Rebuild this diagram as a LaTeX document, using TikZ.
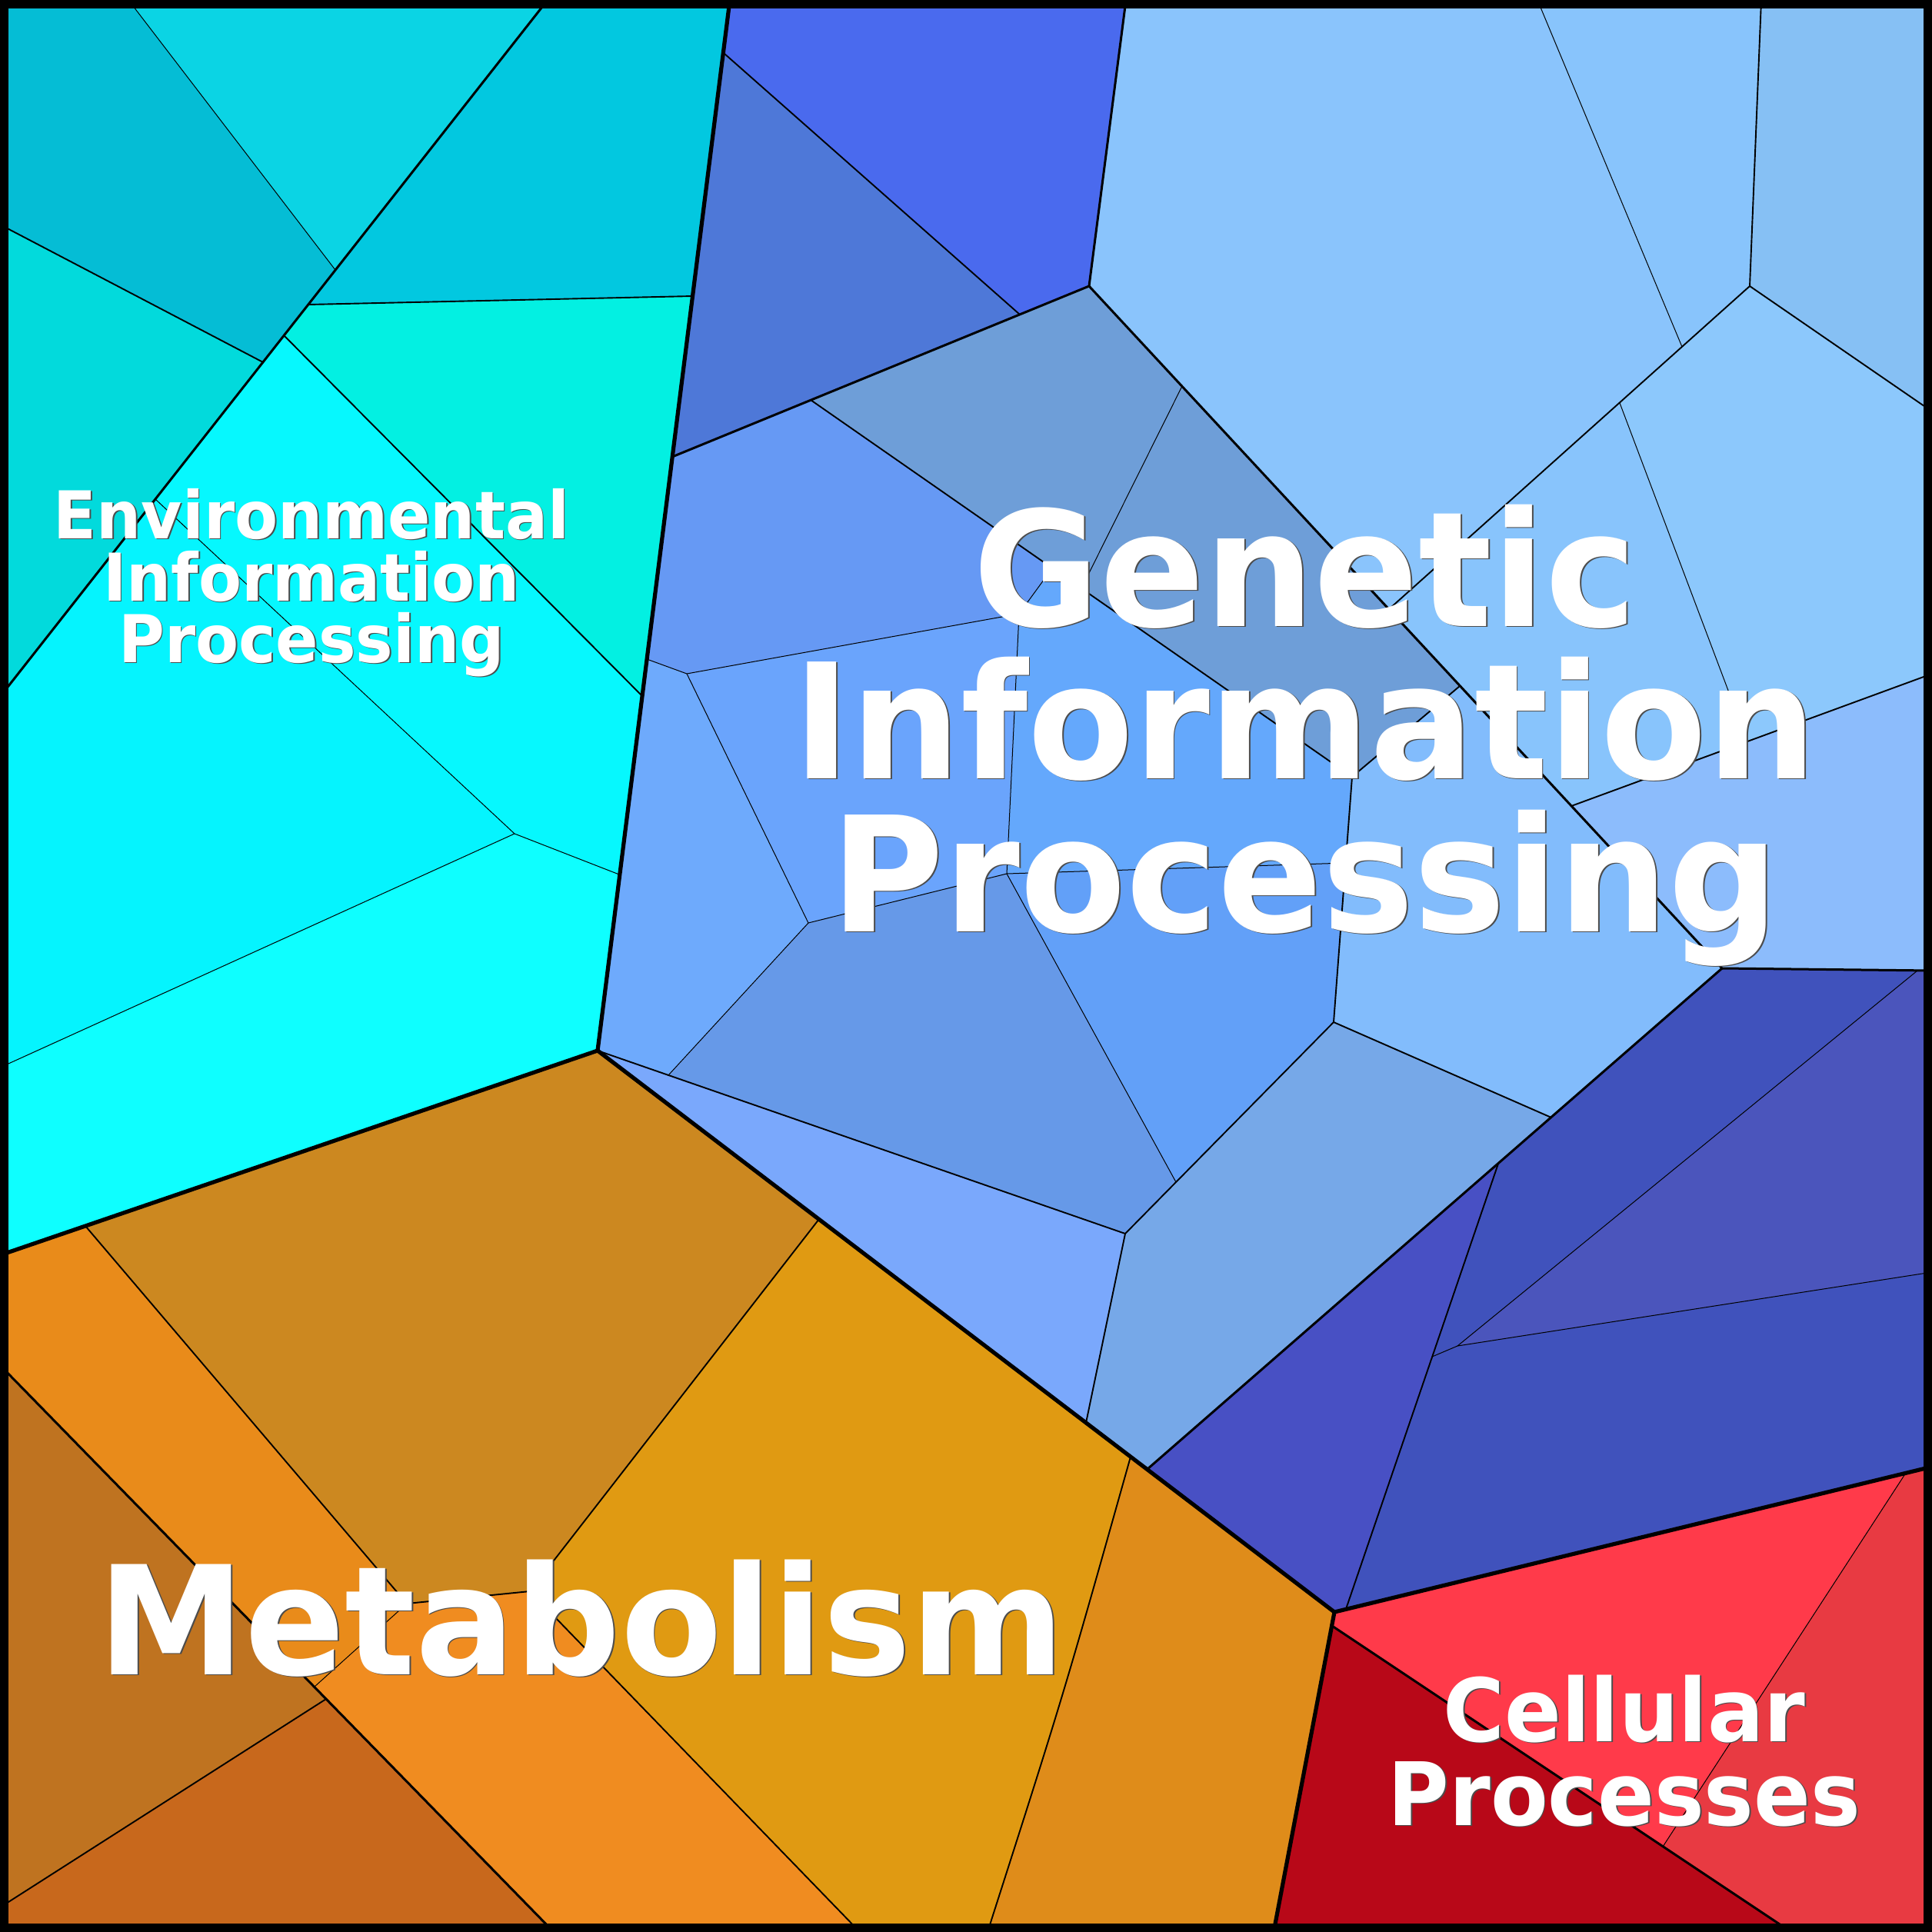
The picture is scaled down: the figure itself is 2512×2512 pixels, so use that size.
\documentclass[tikz,border=0pt]{standalone}
\usepackage{fontspec}
\setmainfont{DejaVu Sans}
\usepackage{graphicx}
\usepackage{tikz}

% cell colours
\definecolor{envA}{HTML}{05BDD5}
\definecolor{envB}{HTML}{0BD4E4}
\definecolor{envC}{HTML}{02DADC}
\definecolor{envD}{HTML}{02C8E0}
\definecolor{envE}{HTML}{03F0E2}
\definecolor{envF}{HTML}{06F8FE}
\definecolor{envG}{HTML}{05F4FE}
\definecolor{envH}{HTML}{0EFFFF}
\definecolor{genA}{HTML}{4A6AEE}
\definecolor{genB}{HTML}{4E78D8}
\definecolor{genC}{HTML}{8AC4FC}
\definecolor{genD}{HTML}{88C4FC}
\definecolor{genE}{HTML}{86C0F4}
\definecolor{genF}{HTML}{8CC8FC}
\definecolor{genG}{HTML}{8CBCFC}
\definecolor{genH}{HTML}{6E9ED8}
\definecolor{genI}{HTML}{82BCFC}
\definecolor{genJ}{HTML}{76A8E8}
\definecolor{genK}{HTML}{7AA8FC}
\definecolor{genL}{HTML}{6699F4}
\definecolor{genM}{HTML}{6AA4FC}
\definecolor{genN}{HTML}{64A8FC}
\definecolor{genO}{HTML}{62A0F8}
\definecolor{genP}{HTML}{6EAAFC}
\definecolor{genQ}{HTML}{6699E8}
\definecolor{genR}{HTML}{4850C4}
\definecolor{genS}{HTML}{4052BC}
\definecolor{genT}{HTML}{4B55BC}
\definecolor{metA}{HTML}{BF7320}
\definecolor{metB}{HTML}{C8681C}
\definecolor{metC}{HTML}{E98B1A}
\definecolor{metD}{HTML}{CC8820}
\definecolor{metE}{HTML}{F08C20}
\definecolor{metF}{HTML}{E09A12}
\definecolor{metG}{HTML}{DF8C1A}
\definecolor{celA}{HTML}{B80818}
\definecolor{celB}{HTML}{FF3A4A}
\definecolor{celC}{HTML}{E83A42}

% x, baseline y, font size, horizontal scale, text
\newcommand\maplabel[5]{%
  \node[lblshadow,font=\bfseries\fontsize{#3}{#3}\selectfont] at (#1+1.8,#2+1.8) {\scalebox{#4}[1]{#5}};
  \node[lbl,font=\bfseries\fontsize{#3}{#3}\selectfont] at (#1,#2) {\scalebox{#4}[1]{#5}};}

\begin{document}
\begin{tikzpicture}[x=0.1mm,y=-0.1mm,
    lvlone/.style={line width=0.52mm, line join=miter},
    lvltwo/.style={line width=0.30mm, line join=miter},
    lvlthree/.style={line width=0.19mm},
    lvlfour/.style={line width=0.10mm},
    lbl/.style={text=white, anchor=base, inner sep=0pt},
    lblshadow/.style={text=black!70, anchor=base, inner sep=0pt}]
\useasboundingbox (0,0) rectangle (2512,2512);

% vertices: Environmental Information Processing
\coordinate (tB) at (167,0);   \coordinate (tA) at (712,0);   \coordinate (tE) at (949,0);
\coordinate (pA1) at (436,351); \coordinate (pA2) at (401,396); \coordinate (pA3) at (369,436);
\coordinate (pA4) at (342,471); \coordinate (pA5) at (202,649);
\coordinate (lA) at (0,906);   \coordinate (lB) at (0,292);   \coordinate (lC) at (0,1388);
\coordinate (lD) at (0,1632);  \coordinate (q1) at (669,1084);
\coordinate (g0) at (941,69);  \coordinate (g1) at (901,385); \coordinate (g2) at (874,594);
\coordinate (g4) at (841,857); \coordinate (g3) at (835,905); \coordinate (g5) at (805,1137);
\coordinate (J0) at (777,1366);

% vertices: Genetic Information Processing
\coordinate (tG) at (1464,0);  \coordinate (tI) at (1999,0);  \coordinate (tH) at (2290,0);
\coordinate (K) at (1416,372); \coordinate (kA) at (1054,520); \coordinate (kB) at (1326,409);
\coordinate (kC) at (1368,739);
\coordinate (KR) at (2275,372); \coordinate (rB) at (2512,535); \coordinate (lc1) at (2187,451);
\coordinate (lc2) at (2106,524); \coordinate (bC) at (1806,792);
\coordinate (d1) at (1537,502); \coordinate (d2) at (1898,892); \coordinate (d3) at (2043,1048);
\coordinate (ld1) at (2272,964); \coordinate (rD) at (2512,876);
\coordinate (R) at (2239,1259); \coordinate (rR) at (2512,1262);
\coordinate (s1j) at (1406,765);
\coordinate (Jc1) at (1758,1010); \coordinate (Jc2) at (1734,1329); \coordinate (m2a) at (2017,1453);
\coordinate (Q) at (1492,1910);  \coordinate (Jc3) at (1529,1537); \coordinate (Jc4) at (1463,1604);
\coordinate (Mb) at (1412,1850);
\coordinate (Jx) at (1325,798);  \coordinate (v1) at (893,876);   \coordinate (v2) at (1309,1136);
\coordinate (v3) at (1051,1200); \coordinate (v4) at (1750,1122); \coordinate (v5) at (869,1398);
\coordinate (dm1) at (1948,1513); \coordinate (dm2) at (1862,1764); \coordinate (dm3) at (1750,2092);
\coordinate (dt1) at (2493,1262); \coordinate (dj) at (1895,1750);  \coordinate (rE) at (2512,1654);
\coordinate (rC) at (2512,1907);  \coordinate (JC) at (1735,2096);

% vertices: Metabolism and Cellular Processes
\coordinate (mA) at (111,1594);  \coordinate (mL) at (0,1775);    \coordinate (mB) at (720,2512);
\coordinate (mL1) at (424,2209); \coordinate (mL2) at (409,2193); \coordinate (mLl) at (0,2480);
\coordinate (mJ1) at (529,2085); \coordinate (mJ2) at (689,2069); \coordinate (mG) at (1065,1585);
\coordinate (mBb) at (1118,2512); \coordinate (mG2) at (1470,1894); \coordinate (mM) at (1383,2203);
\coordinate (mBc) at (1284,2512); \coordinate (mC) at (1656,2512);
\coordinate (cL) at (1732,2114); \coordinate (cB) at (2329,2512); \coordinate (cP) at (2162,2401);
\coordinate (cT) at (2478,1915);

% Environmental Information Processing cells
\fill[envA] (0,0) -- (tB) -- (pA1) -- (pA4) -- (lB) -- cycle;
\fill[envB] (tB) -- (tA) -- (pA1) -- cycle;
\fill[envC] (lB) -- (pA4) -- (lA) -- cycle;
\fill[envD] (tA) -- (tE) -- (g1) -- (pA2) -- cycle;
\fill[envE] (pA2) -- (g1) -- (g3) -- (pA3) -- cycle;
\fill[envF] (pA3) -- (g3) -- (g5) -- (q1) -- (pA5) -- cycle;
\fill[envG] (pA5) -- (q1) -- (lC) -- (lA) -- cycle;
\fill[envH] (lC) -- (q1) -- (g5) -- (J0) -- (lD) -- cycle;

% Genetic Information Processing cells
\fill[genA] (tE) -- (tG) -- (K) -- (kB) -- (g0) -- cycle;
\fill[genB] (g0) -- (kB) -- (g2) -- cycle;
\fill[genC] (tG) -- (tI) -- (lc1) -- (bC) -- (K) -- cycle;
\fill[genD] (tI) -- (tH) -- (KR) -- (lc1) -- cycle;
\fill[genE] (tH) -- (2512,0) -- (rB) -- (KR) -- cycle;
\fill[genF] (KR) -- (rB) -- (rD) -- (ld1) -- (lc2) -- cycle;
\fill[genD] (lc2) -- (ld1) -- (d3) -- (bC) -- cycle;
\fill[genG] (d3) -- (rD) -- (rR) -- (R) -- cycle;
\fill[genH] (kA) -- (K) -- (d2) -- (Jc1) -- cycle;
\fill[genI] (Jc1) -- (d2) -- (R) -- (m2a) -- (Jc2) -- cycle;
\fill[genJ] (Jc2) -- (m2a) -- (Q) -- (Mb) -- (Jc4) -- cycle;
\fill[genK] (J0) -- (Jc4) -- (Mb) -- cycle;
\fill[genL] (g2) -- (kA) -- (kC) -- (Jx) -- (v1) -- (g4) -- cycle;
\fill[genM] (v1) -- (Jx) -- (v2) -- (v3) -- cycle;
\fill[genN] (Jx) -- (kC) -- (Jc1) -- (v4) -- (v2) -- cycle;
\fill[genO] (v2) -- (v4) -- (Jc2) -- (Jc3) -- cycle;
\fill[genP] (g4) -- (v1) -- (v3) -- (v5) -- (J0) -- cycle;
\fill[genQ] (v5) -- (v3) -- (v2) -- (Jc3) -- (Jc4) -- cycle;
\fill[genR] (Q) -- (dm1) -- (dm3) -- (JC) -- cycle;
\fill[genS] (R) -- (dt1) -- (dj) -- (dm2) -- (dm1) -- cycle;
\fill[genT] (dt1) -- (rR) -- (rE) -- (dj) -- cycle;
\fill[genS] (dm2) -- (dj) -- (rE) -- (rC) -- (dm3) -- cycle;

% Metabolism cells
\fill[metA] (mL) -- (mL1) -- (mLl) -- cycle;
\fill[metB] (mLl) -- (mL1) -- (mB) -- (0,2512) -- cycle;
\fill[metC] (lD) -- (mA) -- (mJ1) -- (mL2) -- (mL) -- cycle;
\fill[metD] (mA) -- (J0) -- (mG) -- (mJ2) -- (mJ1) -- cycle;
\fill[metE] (mJ1) -- (mJ2) -- (mBb) -- (mB) -- (mL2) -- cycle;
\fill[metF] (mG) -- (mG2) .. controls (mM) .. (mBc) -- (mBb) -- (mJ2) -- cycle;
\fill[metG] (mG2) -- (JC) -- (mC) -- (mBc) .. controls (mM) .. (mG2) -- cycle;

% Cellular Processes cells
\fill[celA] (cL) -- (cB) -- (mC) -- cycle;
\fill[celB] (JC) -- (cT) -- (cP) -- (cL) -- cycle;
\fill[celC] (cT) -- (rC) -- (2512,2512) -- (cB) -- (cP) -- cycle;

% finest borders
\draw[lvlfour] (tB) -- (pA1);
\draw[lvlfour] (pA5) -- (q1) -- (g5);
\draw[lvlfour] (q1) -- (lC);
\draw[lvlfour] (tI) -- (lc1);
\draw[lvlfour] (lc2) -- (ld1);
\draw[lvlfour] (d1) -- (s1j);
\draw[lvlfour] (g4) -- (v1) -- (Jx) -- (kC);
\draw[lvlfour] (Jx) -- (v2) -- (v4);
\draw[lvlfour] (v1) -- (v3) -- (v2) -- (Jc3);
\draw[lvlfour] (v3) -- (v5);
\draw[lvlfour] (dt1) -- (dj) -- (rE);
\draw[lvlfour] (dj) -- (dm2);
\draw[lvlfour] (mJ1) -- (mL2);
\draw[lvlfour] (cP) -- (cT);

% inner borders
\draw[lvlthree] (lB) -- (pA4);
\draw[lvlthree] (pA2) -- (g1);
\draw[lvlthree] (pA3) -- (g3);
\draw[lvlthree] (g0) -- (kB);
\draw[lvlthree] (tH) -- (KR) -- (rB);
\draw[lvlthree] (KR) -- (bC);
\draw[lvlthree] (d3) -- (rD);
\draw[lvlthree] (kA) -- (Jc1) -- (d2);
\draw[lvlthree] (Jc1) -- (Jc2) -- (m2a);
\draw[lvlthree] (Jc2) -- (Jc4) -- (Mb);
\draw[lvlthree] (J0) -- (Jc4);
\draw[lvlthree] (dm1) -- (dm3);
\draw[lvlthree] (mL1) -- (mLl);
\draw[lvlthree] (mA) -- (mJ1) -- (mJ2) -- (mG);
\draw[lvlthree] (mJ2) -- (mBb);
\draw[lvlthree] (mG2) .. controls (mM) .. (mBc);

% group borders
\draw[lvltwo] (tA) -- (lA);
\draw[lvltwo] (tG) -- (K) -- (g2);
\draw[lvltwo] (K) -- (R) -- (rR);
\draw[lvltwo] (R) -- (Q);
\draw[lvltwo] (mL) -- (mB);
\draw[lvltwo] (cL) -- (cB);

% top level borders
\draw[lvlone] (tE) -- (J0) -- (lD);
\draw[lvlone] (J0) -- (JC) -- (rC);
\draw[lvlone] (JC) -- (mC);

% frame
\draw[line width=1.15mm] (5.75,5.75) rectangle (2506.25,2506.25);

% labels
\maplabel{405}{700}{24.4pt}{0.952}{Environmental}
\maplabel{405}{781}{24.4pt}{0.952}{Information}
\maplabel{405}{861}{24.4pt}{0.952}{Processing}
\maplabel{1697}{814}{59.3pt}{0.962}{Genetic}
\maplabel{1697}{1012}{59.3pt}{0.962}{Information}
\maplabel{1697}{1211}{59.3pt}{0.962}{Processing}
\maplabel{756}{2177}{56pt}{0.975}{Metabolism}
\maplabel{2112}{2264}{32.4pt}{0.956}{Cellular}
\maplabel{2112}{2373}{32.4pt}{0.956}{Processes}
\end{tikzpicture}
\end{document}
